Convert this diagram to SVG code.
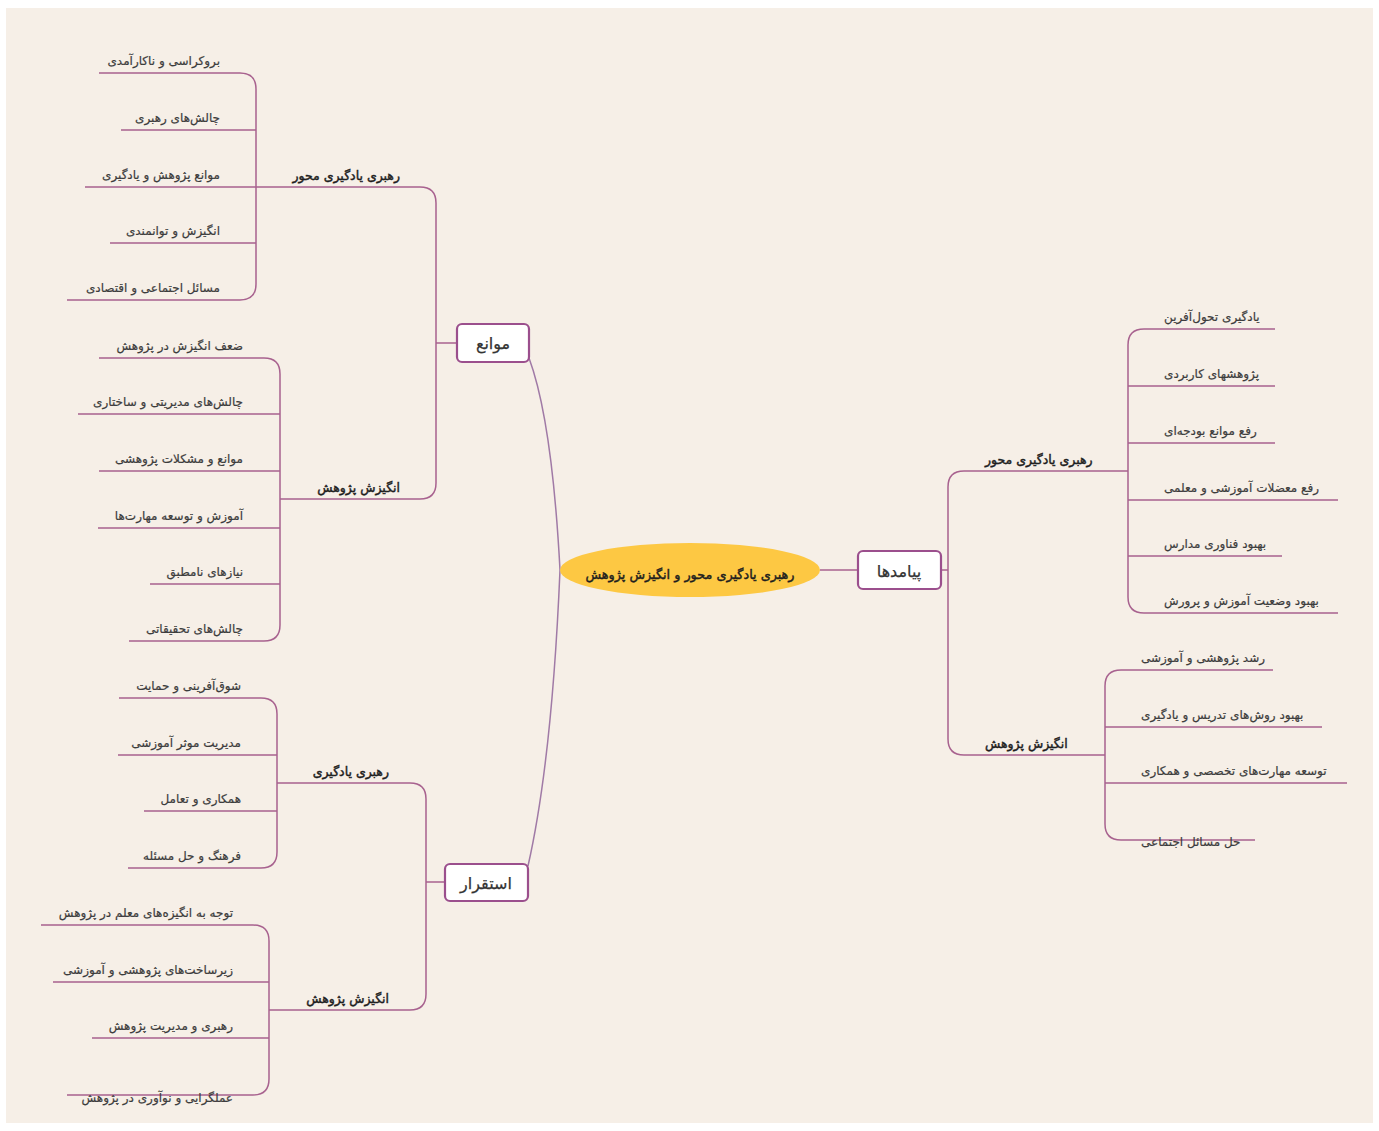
<svg xmlns="http://www.w3.org/2000/svg" width="1379" height="1131" viewBox="0 0 1379 1131">
<style>
.bg{fill:#f6efe7}
.ln{fill:none;stroke:#a8628f;stroke-width:1.5}
.mn{fill:none;stroke:#a07aa6;stroke-width:1.5}
.box{fill:#ffffff;stroke:#9b4f8d;stroke-width:2.2}
.t{font-family:"DejaVu Sans",sans-serif;font-size:12px;fill:#3c3c3c;stroke:#3c3c3c;stroke-width:0.2}
.p{font-family:"DejaVu Sans",sans-serif;font-size:12.5px;fill:#1e1e1e;stroke:#1e1e1e;stroke-width:0.45}
.b{font-family:"DejaVu Sans",sans-serif;font-size:16px;fill:#333333;stroke:#333333;stroke-width:0.25;text-anchor:middle}
.c{font-family:"DejaVu Sans",sans-serif;font-size:12.8px;fill:#1e1e1e;stroke:#1e1e1e;stroke-width:0.45;text-anchor:middle}
.e{text-anchor:end}
.s{text-anchor:start}
</style>
<rect x="0" y="0" width="1379" height="1131" fill="#ffffff"/>
<rect class="bg" x="6" y="8" width="1367" height="1115"/>
<g id="connectors">
<path class="mn" d="M 560 570 Q 552 420 529 358"/>
<path class="mn" d="M 560 570 Q 552 760 528 866"/>
<path class="ln" d="M 820 570 H 858"/>
<path class="ln" d="M 941 570 H 948"/>
<path class="ln" d="M 1128 471 H 964 Q 948 471 948 487 V 739 Q 948 755 964 755 H 1105"/>
<path class="ln" d="M 1275 329 H 1144 Q 1128 329 1128 345 V 597 Q 1128 613 1144 613 H 1338"/>
<path class="ln" d="M 1128 386 H 1275 M 1128 443 H 1275 M 1128 500 H 1338 M 1128 556 H 1282"/>
<path class="ln" d="M 1273 670 H 1121 Q 1105 670 1105 686 V 824 Q 1105 840 1121 840 H 1255"/>
<path class="ln" d="M 1105 727 H 1322 M 1105 783 H 1347"/>
<path class="ln" d="M 457 343 H 436"/>
<path class="ln" d="M 276 187 H 420 Q 436 187 436 203 V 483 Q 436 499 420 499 H 280"/>
<path class="ln" d="M 99 73 H 240 Q 256 73 256 89 V 284 Q 256 300 240 300 H 67"/>
<path class="ln" d="M 121 130 H 256 M 85 187 H 276 M 110 243 H 256"/>
<path class="ln" d="M 99 358 H 264 Q 280 358 280 374 V 625 Q 280 641 264 641 H 129"/>
<path class="ln" d="M 78 414 H 280 M 99 471 H 280 M 98 528 H 280 M 150 584 H 280"/>
<path class="ln" d="M 445 882 H 426"/>
<path class="ln" d="M 277 783 H 410 Q 426 783 426 799 V 994 Q 426 1010 410 1010 H 269"/>
<path class="ln" d="M 119 698 H 261 Q 277 698 277 714 V 852 Q 277 868 261 868 H 128"/>
<path class="ln" d="M 118 755 H 277 M 144 811 H 277"/>
<path class="ln" d="M 41 925 H 253 Q 269 925 269 941 V 1079 Q 269 1095 253 1095 H 67"/>
<path class="ln" d="M 53 982 H 269 M 92 1038 H 269"/>
</g>
<g id="central">
<ellipse cx="690" cy="570" rx="130" ry="27" fill="#fdc843"/>
<text class="c" x="690" y="579">رهبری یادگیری محور و انگیزش پژوهش</text>
</g>
<g id="payamadha">
<rect class="box" x="858" y="551" width="83" height="38" rx="5"/>
<text class="b" x="899" y="577">پیامدها</text>
</g>
<g id="mavane">
<rect class="box" x="457" y="324" width="72" height="38" rx="5"/>
<text class="b" x="493" y="349">موانع</text>
</g>
<g id="esteghrar">
<rect class="box" x="445" y="864" width="83" height="37" rx="5"/>
<text class="b" x="486" y="889">استقرار</text>
</g>
<g id="r-rahbari">
<text class="p s" x="985" y="464">رهبری یادگیری محور</text>
</g>
<g id="r-rahbari-children">
<text class="t s" x="1164" y="321">یادگیری تحول‌آفرین</text>
<text class="t s" x="1164" y="378">پژوهشهای کاربردی</text>
<text class="t s" x="1164" y="435">رفع موانع بودجه‌ای</text>
<text class="t s" x="1164" y="492">رفع معضلات آموزشی و معلمی</text>
<text class="t s" x="1164" y="548">بهبود فناوری مدارس</text>
<text class="t s" x="1164" y="605">بهبود وضعیت آموزش و پرورش</text>
</g>
<g id="r-angizesh">
<text class="p s" x="985" y="748">انگیزش پژوهش</text>
</g>
<g id="r-angizesh-children">
<text class="t s" x="1141" y="662">رشد پژوهشی و آموزشی</text>
<text class="t s" x="1141" y="719">بهبود روش‌های تدریس و یادگیری</text>
<text class="t s" x="1141" y="775">توسعه مهارت‌های تخصصی و همکاری</text>
<text class="t s" x="1141" y="846">حل مسائل اجتماعی</text>
</g>
<g id="l-rahbari">
<text class="p e" x="400" y="180">رهبری یادگیری محور</text>
</g>
<g id="l-rahbari-children">
<text class="t e" x="220" y="65">بروکراسی و ناکارآمدی</text>
<text class="t e" x="220" y="122">چالش‌های رهبری</text>
<text class="t e" x="220" y="179">موانع پژوهش و یادگیری</text>
<text class="t e" x="220" y="235">انگیزش و توانمندی</text>
<text class="t e" x="220" y="292">مسائل اجتماعی و اقتصادی</text>
</g>
<g id="l-angizesh">
<text class="p e" x="400" y="492">انگیزش پژوهش</text>
</g>
<g id="l-angizesh-children">
<text class="t e" x="243" y="350">ضعف انگیزش در پژوهش</text>
<text class="t e" x="243" y="406">چالش‌های مدیریتی و ساختاری</text>
<text class="t e" x="243" y="463">موانع و مشکلات پژوهشی</text>
<text class="t e" x="243" y="520">آموزش و توسعه مهارت‌ها</text>
<text class="t e" x="243" y="576">نیازهای نامطبق</text>
<text class="t e" x="243" y="633">چالش‌های تحقیقاتی</text>
</g>
<g id="e-rahbari">
<text class="p e" x="389" y="776">رهبری یادگیری</text>
</g>
<g id="e-rahbari-children">
<text class="t e" x="241" y="690">شوق‌آفرینی و حمایت</text>
<text class="t e" x="241" y="747">مدیریت موثر آموزشی</text>
<text class="t e" x="241" y="803">همکاری و تعامل</text>
<text class="t e" x="241" y="860">فرهنگ و حل مسئله</text>
</g>
<g id="e-angizesh">
<text class="p e" x="389" y="1003">انگیزش پژوهش</text>
</g>
<g id="e-angizesh-children">
<text class="t e" x="233" y="917">توجه به انگیزه‌های معلم در پژوهش</text>
<text class="t e" x="233" y="974">زیرساخت‌های پژوهشی و آموزشی</text>
<text class="t e" x="233" y="1030">رهبری و مدیریت پژوهش</text>
<text class="t e" x="233" y="1102">عملگرایی و نوآوری در پژوهش</text>
</g>
</svg>
